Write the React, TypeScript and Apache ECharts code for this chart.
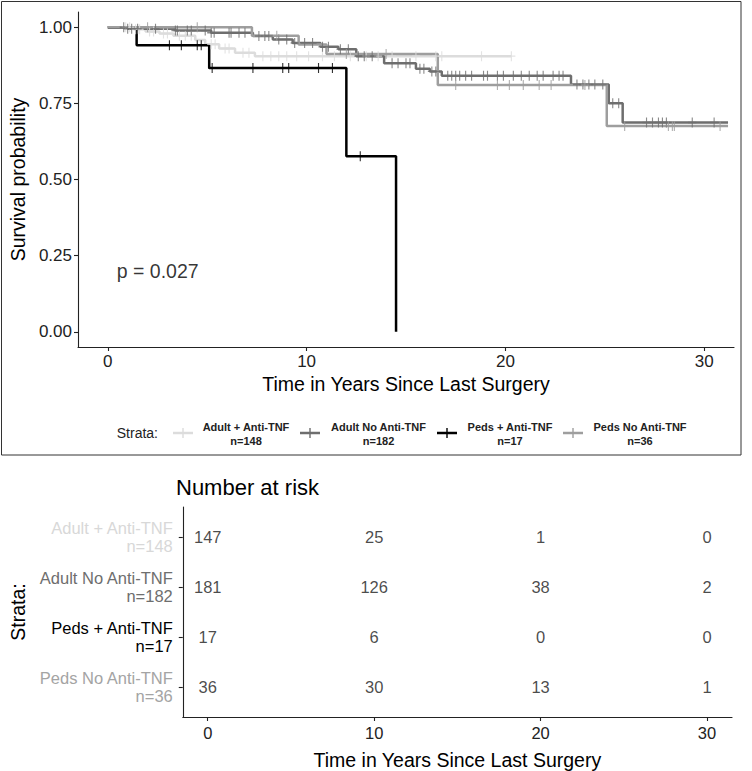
import React, { useEffect, useRef } from "react";
import * as echarts from "echarts";

const FONT = "'Liberation Sans', Arial, Helvetica, sans-serif";

// Strata
const strataNames = ["Adult + Anti-TNF", "Adult No Anti-TNF", "Peds + Anti-TNF", "Peds No Anti-TNF"];
const strataN = [148, 182, 17, 36];
const strataColors = ["#dcdcdc", "#6e6e6e", "#000000", "#9e9e9e"];
const labelColors = ["#d8d8d8", "#6e6e6e", "#000000", "#a4a4a4"];

// Kaplan–Meier steps: times (years) and survival after each step
const adultAntiTimes = [0, 1.3, 1.9, 2.6, 3.3, 4.4, 4.9, 5.6, 6.4, 7.4];
const adultAntiSurv = [1, 0.993, 0.986, 0.979, 0.972, 0.958, 0.944, 0.93, 0.916, 0.905];
const adultAntiEnd = 20.3;
const adultAntiCensor = [0.9, 1.1, 1.4, 1.6, 2.1, 2.3, 2.8, 3.0, 3.6, 3.9, 4.2, 5.2, 5.4, 5.9, 6.1, 6.8, 7.1, 7.8, 8.2, 8.6, 9.0, 9.5, 10.1, 10.8, 11.4, 12.2, 13.0, 13.6, 14.3, 15.5, 16.5, 16.8, 18.8, 20.3];

const adultNoTimes = [0, 1.0, 3.4, 5.2, 7.3, 8.3, 9.3, 10.7, 11.6, 12.5, 13.9, 15.5, 16.2, 16.8, 23.3, 25.2, 25.9];
const adultNoSurv = [1, 0.995, 0.989, 0.982, 0.971, 0.96, 0.948, 0.936, 0.928, 0.905, 0.882, 0.864, 0.855, 0.841, 0.812, 0.75, 0.687];
const adultNoEnd = 31.2;
const adultNoCensor = [0.8, 1.0, 1.2, 1.5, 2.4, 3.4, 3.5, 4.0, 4.2, 4.9, 5.2, 5.35, 6.1, 6.2, 6.6, 6.9, 7.6, 7.9, 8.1, 8.6, 9.0, 9.4, 9.9, 10.3, 10.8, 11.1, 11.7, 12.1, 12.6, 12.9, 13.3, 14.3, 14.6, 15.0, 15.2, 15.7, 15.9, 16.3, 16.5, 17.1, 17.3, 17.5, 17.7, 18.0, 18.3, 18.9, 19.1, 19.6, 19.9, 20.4, 20.8, 21.2, 21.6, 21.9, 22.4, 22.7, 22.9, 23.6, 23.9, 24.2, 24.5, 24.9, 25.4, 25.7, 27.1, 27.4, 27.7, 27.9, 28.1, 29.4, 30.5];

const pedsAntiTimes = [0, 1.45, 5.1, 12.0, 14.5];
const pedsAntiSurv = [1, 0.941, 0.866, 0.576, 0];
const pedsAntiEnd = 14.5;
const pedsAntiCensor = [3.1, 3.7, 4.5, 4.7, 5.25, 7.3, 8.8, 9.1, 10.6, 11.3, 12.7];

const pedsNoTimes = [0, 7.25, 9.6, 11.0, 16.6, 25.1];
const pedsNoSurv = [1, 0.972, 0.943, 0.912, 0.81, 0.676];
const pedsNoEnd = 31.2;
const pedsNoCensor = [2.0, 4.5, 8.5, 12.0, 14.0, 17.5, 19.6, 20.2, 20.9, 21.7, 22.3, 24.0, 26.0, 28.2, 28.4, 28.5, 30.8];

// Number at risk table
const riskTimes = [0, 10, 20, 30];
const riskAdultAnti = [147, 25, 1, 0];
const riskAdultNo = [181, 126, 38, 2];
const riskPedsAnti = [17, 6, 0, 0];
const riskPedsNo = [36, 30, 13, 1];

const xTicks = [0, 10, 20, 30];
const yTicks = [0, 0.25, 0.5, 0.75, 1];
const pValueText = "p = 0.027";
const pValuePos = [0.45, 0.2];

function stepData(times: number[], surv: number[], end: number) {
  const d = times.map((t, i) => [t, surv[i]]);
  d.push([end, surv[surv.length - 1]]);
  return d;
}
function survAt(times: number[], surv: number[], t: number) {
  let s = surv[0];
  for (let i = 0; i < times.length; i++) if (times[i] <= t) s = surv[i];
  return s;
}

const PLUS = "path://M43,0 H57 V43 H100 V57 H57 V100 H43 V57 H0 V43 H43 Z";

export default function App() {
  const ref = useRef<HTMLDivElement>(null);
  useEffect(() => {
    document.body.style.margin = "0";
    const chart = echarts.init(ref.current!, null, { renderer: "svg" });

    const curves = [
      { t: adultAntiTimes, s: adultAntiSurv, e: adultAntiEnd, c: adultAntiCensor },
      { t: adultNoTimes, s: adultNoSurv, e: adultNoEnd, c: adultNoCensor },
      { t: pedsAntiTimes, s: pedsAntiSurv, e: pedsAntiEnd, c: pedsAntiCensor },
      { t: pedsNoTimes, s: pedsNoSurv, e: pedsNoEnd, c: pedsNoCensor },
    ];
    const risks = [riskAdultAnti, riskAdultNo, riskPedsAnti, riskPedsNo];

    const lineSeries = curves.map((cv, i) => ({
      type: "line",
      name: strataNames[i],
      xAxisIndex: 0,
      yAxisIndex: 0,
      step: "end",
      showSymbol: false,
      data: stepData(cv.t, cv.s, cv.e),
      lineStyle: { color: strataColors[i], width: 2.5 },
      itemStyle: { color: strataColors[i] },
      z: 2 + i,
    }));
    const censorSeries = curves.map((cv, i) => ({
      type: "scatter",
      name: strataNames[i] + " censor",
      xAxisIndex: 0,
      yAxisIndex: 0,
      symbol: PLUS,
      symbolSize: [8, 10],
      data: cv.c.map((t) => [t, survAt(cv.t, cv.s, t)]),
      itemStyle: { color: strataColors[i] },
      z: 10 + i,
    }));
    const riskSeries = risks.map((r, i) => ({
      type: "scatter",
      xAxisIndex: 1,
      yAxisIndex: 1,
      symbolSize: 0,
      data: riskTimes.map((t, k) => [t, i + 1, r[k]]),
      label: {
        show: true,
        position: "inside",
        formatter: (p: any) => String(p.value[2]),
        fontFamily: FONT,
        fontSize: 16.5,
        color: "#1a1a1a",
      },
    }));

    const axisCommon = {
      axisLine: { show: true, onZero: false, lineStyle: { color: "#222", width: 1.1 } },
      axisTick: { show: true, length: 4, lineStyle: { color: "#222", width: 1.1 } },
      splitLine: { show: false },
    };

    const rich: any = {};
    strataNames.forEach((_, i) => {
      rich["s" + i] = { color: labelColors[i], fontSize: 16.5, fontFamily: FONT, lineHeight: 18, align: "right" };
    });

    // legend graphics
    const keyX = [183, 310, 447, 573];
    const textX = [246, 378.5, 510, 640];
    const legendGraphics: any[] = [
      {
        type: "text",
        x: 158,
        y: 433,
        style: { text: "Strata:", font: `14px ${FONT}`, fill: "#222", textAlign: "right", textVerticalAlign: "middle" },
      },
    ];
    strataNames.forEach((nm, i) => {
      legendGraphics.push({
        type: "line",
        shape: { x1: keyX[i] - 10, y1: 433, x2: keyX[i] + 10, y2: 433 },
        style: { stroke: strataColors[i], lineWidth: 2.5 },
      });
      legendGraphics.push({
        type: "line",
        shape: { x1: keyX[i], y1: 428, x2: keyX[i], y2: 438 },
        style: { stroke: strataColors[i], lineWidth: 1.4 },
      });
      legendGraphics.push({
        type: "text",
        x: textX[i],
        y: 427,
        style: { text: nm, font: `bold 11px ${FONT}`, fill: "#222", textAlign: "center", textVerticalAlign: "middle" },
      });
      legendGraphics.push({
        type: "text",
        x: textX[i],
        y: 440.5,
        style: { text: "n=" + strataN[i], font: `bold 11px ${FONT}`, fill: "#222", textAlign: "center", textVerticalAlign: "middle" },
      });
    });

    chart.setOption({
      animation: false,
      backgroundColor: "#ffffff",
      textStyle: { fontFamily: FONT },
      grid: [
        { left: 72, top: 12, width: 662, height: 335 },
        { left: 176, top: 507, width: 556, height: 214 },
      ],
      xAxis: [
        {
          gridIndex: 0,
          type: "value",
          min: -1.5,
          max: 31.5,
          ...axisCommon,
          axisTick: { ...axisCommon.axisTick, customValues: xTicks },
          axisLabel: { customValues: xTicks, fontSize: 17, color: "#222", margin: 6, fontFamily: FONT },
          name: "Time in Years Since Last Surgery",
          nameLocation: "middle",
          nameGap: 27,
          nameTextStyle: { fontSize: 19.5, color: "#000", fontFamily: FONT },
        },
        {
          gridIndex: 1,
          type: "value",
          min: -1.5,
          max: 31.5,
          ...axisCommon,
          axisTick: { ...axisCommon.axisTick, customValues: xTicks },
          axisLabel: { customValues: xTicks, fontSize: 16.5, color: "#222", margin: 7, fontFamily: FONT },
          name: "Time in Years Since Last Surgery",
          nameLocation: "middle",
          nameGap: 33,
          nameTextStyle: { fontSize: 19.5, color: "#000", fontFamily: FONT },
        },
      ],
      yAxis: [
        {
          gridIndex: 0,
          type: "value",
          min: -0.05,
          max: 1.05,
          ...axisCommon,
          axisTick: { ...axisCommon.axisTick, customValues: yTicks },
          axisLabel: {
            customValues: yTicks,
            fontSize: 17,
            color: "#222",
            margin: 6,
            fontFamily: FONT,
            formatter: (v: number) => v.toFixed(2),
          },
          name: "Survival probability",
          nameLocation: "middle",
          nameGap: 46,
          nameTextStyle: { fontSize: 19.5, color: "#000", fontFamily: FONT },
        },
        {
          gridIndex: 1,
          type: "value",
          min: 0.4,
          max: 4.6,
          inverse: true,
          ...axisCommon,
          axisTick: { ...axisCommon.axisTick, customValues: [1, 2, 3, 4] },
          axisLabel: {
            customValues: [1, 2, 3, 4],
            margin: 10,
            formatter: (v: number) => {
              const i = Math.round(v) - 1;
              return `{s${i}|${strataNames[i]}}\n{s${i}|n=${strataN[i]}}`;
            },
            rich,
          },
          name: "Strata:",
          nameLocation: "middle",
          nameGap: 150,
          nameTextStyle: { fontSize: 19.5, color: "#000", fontFamily: FONT },
        },
      ],
      series: [
        ...lineSeries,
        ...censorSeries,
        {
          type: "scatter",
          xAxisIndex: 0,
          yAxisIndex: 0,
          symbolSize: 0,
          data: [pValuePos],
          label: {
            show: true,
            position: "inside",
            align: "left",
            formatter: pValueText,
            fontSize: 19.5,
            color: "#000",
            fontFamily: FONT,
          },
        },
        ...riskSeries,
      ],
      graphic: [
        {
          type: "rect",
          shape: { x: 1.5, y: 1.5, width: 739.5, height: 453.5 },
          style: { fill: "none", stroke: "#333", lineWidth: 1 },
          silent: true,
        },
        ...legendGraphics,
        {
          type: "text",
          x: 176,
          y: 487,
          style: { text: "Number at risk", font: `22px ${FONT}`, fill: "#000", textAlign: "left", textVerticalAlign: "middle" },
        },
      ],
    });
    return () => chart.dispose();
  }, []);
  return <div ref={ref} style={{ width: 752, height: 771 }} />;
}
